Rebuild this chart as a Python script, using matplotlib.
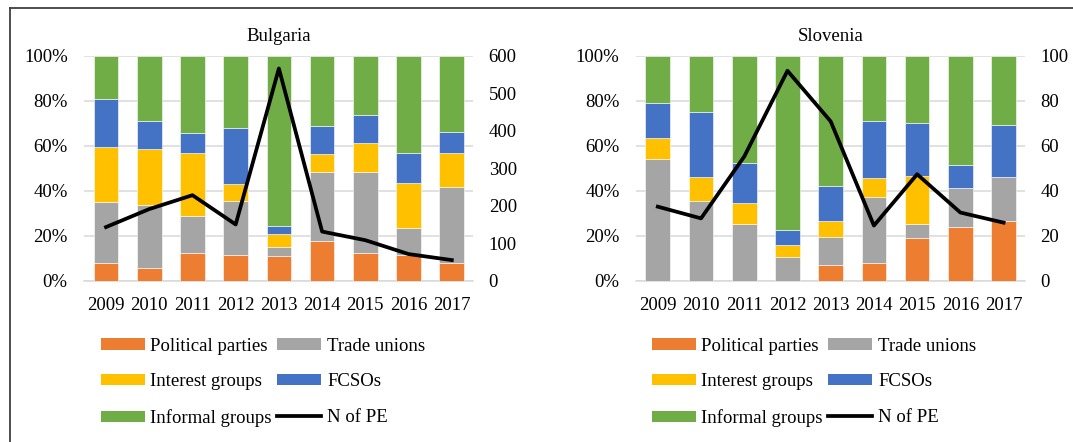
import matplotlib
matplotlib.use("Agg")
import matplotlib.pyplot as plt
import numpy as np
from matplotlib.lines import Line2D
from matplotlib.patches import Patch

plt.rcParams['font.family'] = ['Liberation Serif', 'DejaVu Serif']

years = ['2009', '2010', '2011', '2012', '2013', '2014', '2015', '2016', '2017']
categories = ['Political parties', 'Trade unions', 'Interest groups', 'FCSOs', 'Informal groups']
colors = ['#ED7D31', '#A5A5A5', '#FFC000', '#4472C4', '#70AD47']

# Bulgaria shares (%)
bg_political = [7.9, 5.8, 12.1, 11.4, 11.1, 17.5, 12.3, 11.3, 7.7]
bg_trade = [26.9, 27.7, 16.8, 24.2, 3.7, 30.9, 35.8, 12.3, 33.8]
bg_interest = [24.8, 25.2, 27.8, 7.5, 6.1, 8.0, 13.2, 19.7, 15.1]
bg_fcso = [21.3, 12.3, 8.9, 24.9, 3.4, 12.5, 12.3, 13.6, 9.6]
bg_informal = [19.1, 29.0, 34.4, 32.0, 75.7, 31.1, 26.4, 43.1, 33.8]
bg_npe = [143, 191, 228, 150, 566, 131, 108, 71, 55]

# Slovenia shares (%)
si_political = [0.0, 0.0, 0.0, 0.0, 6.8, 8.0, 18.8, 24.0, 26.7]
si_trade = [54.3, 35.5, 25.2, 10.7, 12.8, 29.4, 6.6, 17.2, 19.4]
si_interest = [9.3, 10.8, 9.4, 5.3, 7.0, 8.3, 21.3, 0.0, 0.0]
si_fcso = [15.2, 28.5, 17.9, 6.6, 15.7, 25.1, 23.2, 10.4, 23.0]
si_informal = [21.2, 25.2, 47.5, 77.4, 57.7, 29.2, 30.1, 48.4, 30.9]
si_npe = [32.9, 27.7, 55.2, 93.3, 70.8, 24.5, 47.3, 30.3, 25.8]

FS = 13.5
W, H = 1073, 442
fig = plt.figure(figsize=(W / 100, H / 100), dpi=100)


def draw(rect, title, shares, npe, rmax, rstep):
    ax = fig.add_axes(rect)
    x = np.arange(len(years))
    bottom = np.zeros(len(years))
    for vals, c in zip(shares, colors):
        v = np.array(vals)
        ax.bar(x, v, 0.57, bottom=bottom, color=c, edgecolor='white', linewidth=0.4, zorder=3)
        bottom += v
    ax.set_xlim(-0.5, len(years) - 0.5)
    ax.set_ylim(0, 100)
    ax.set_yticks(np.arange(0, 101, 20))
    ax.set_yticklabels([f'{v}%' for v in range(0, 101, 20)])
    ax.set_xticks(x)
    ax.set_xticklabels(years)
    ax.yaxis.grid(True, color='#D9D9D9', linewidth=1.1, zorder=0)
    ax.set_axisbelow(True)
    for s in ['top', 'right', 'left']:
        ax.spines[s].set_visible(False)
    ax.spines['bottom'].set_color('#D9D9D9')
    ax.spines['bottom'].set_linewidth(1.1)
    ax.tick_params(axis='both', length=0, labelsize=FS)
    ax.tick_params(axis='y', pad=12)
    ax.tick_params(axis='x', pad=11.5)
    ax.text(0.5, 1.085, title, transform=ax.transAxes, ha='center', va='center', fontsize=FS)

    ax2 = ax.twinx()
    ax2.plot(x, npe, color='black', linewidth=2.7, zorder=5)
    ax2.set_ylim(0, rmax)
    ax2.set_yticks(np.arange(0, rmax + 1, rstep))
    for s in ['top', 'right', 'left', 'bottom']:
        ax2.spines[s].set_visible(False)
    ax2.tick_params(axis='y', length=0, labelsize=FS, pad=11)
    return ax


bottom_f = 1 - 280.7 / H
height_f = 225 / H
draw([84.4 / W, bottom_f, 389 / W, height_f], 'Bulgaria',
     [bg_political, bg_trade, bg_interest, bg_fcso, bg_informal], bg_npe, 600, 100)
draw([636.2 / W, bottom_f, 389 / W, height_f], 'Slovenia',
     [si_political, si_trade, si_interest, si_fcso, si_informal], si_npe, 100, 20)

# Legends (column-wise order for ncol=2)
def make_handles():
    p = [Patch(facecolor=c, edgecolor='none') for c in colors]
    ln = Line2D([], [], color='black', linewidth=2.7)
    handles = [p[0], p[2], p[4], p[1], p[3], ln]
    labels = [categories[0], categories[2], categories[4], categories[1], categories[3], 'N of PE']
    return handles, labels

for xl in [100.6 / W, 651.6 / W]:
    h, l = make_handles()
    fig.legend(h, l, loc='center left', bbox_to_anchor=(xl, 1 - 382.2 / H),
               bbox_transform=fig.transFigure, ncol=2, frameon=False, fontsize=FS,
               handlelength=2.35, handleheight=0.55, handletextpad=0.3,
               columnspacing=0.3, labelspacing=1.0, borderpad=0, borderaxespad=0)

# outer frame (top and left visible)
fig.add_artist(Line2D([9.5 / W, 1.0], [1 - 8.3 / H, 1 - 8.3 / H], transform=fig.transFigure,
                      color='#404040', linewidth=1.3))
fig.add_artist(Line2D([9.5 / W, 9.5 / W], [0, 1 - 8.3 / H], transform=fig.transFigure,
                      color='#404040', linewidth=1.3))

fig.savefig('out.png', dpi=100, facecolor='white')
